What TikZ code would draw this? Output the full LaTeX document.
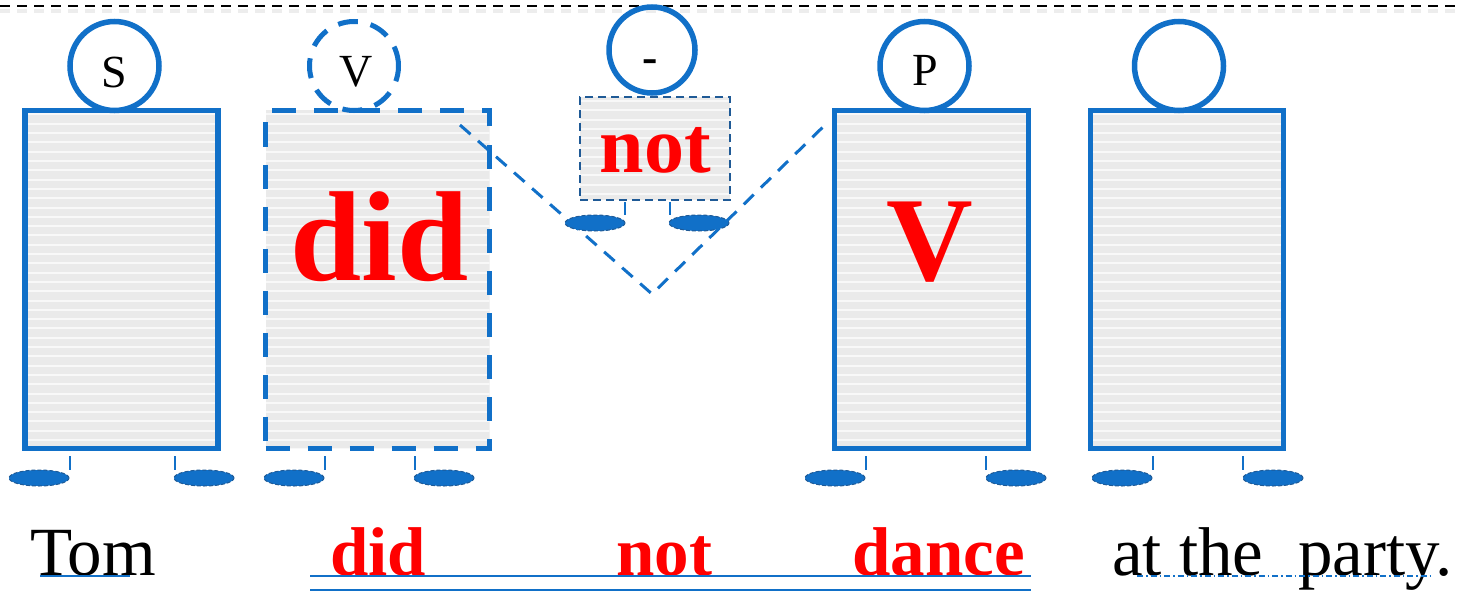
\documentclass[tikz,border=0pt]{standalone}
\usepackage{fontspec}
\setmainfont{Liberation Serif}
\usetikzlibrary{shapes.geometric}
\definecolor{lblue}{RGB}{17,112,200}
\definecolor{dblue}{RGB}{31,90,150}
\definecolor{stripebase}{RGB}{234,234,234}
\definecolor{stripeline}{RGB}{248,248,248}
\definecolor{tred}{RGB}{255,0,0}
\begin{document}
\begin{tikzpicture}[x=1pt,y=-1pt,
  striped/.style={path picture={
    \fill[stripebase] (path picture bounding box.south west) rectangle (path picture bounding box.north east);
    \foreach \k in {0,...,40}{
      \draw[stripeline, solid, line width=2pt] ([yshift={-\k*9.3pt-4pt}]path picture bounding box.north west) -- ([yshift={-\k*9.3pt-4pt}]path picture bounding box.north east);}
  }},
  bigbox/.style={draw=lblue, line width=5.5pt, striped, minimum width=193pt, minimum height=338pt, inner sep=0pt},
  dashbox/.style={bigbox, line width=5pt, minimum width=224pt, dash pattern=on 24pt off 18pt},
  notbox/.style={draw=dblue, line width=2.5pt, striped, minimum width=150pt, minimum height=103pt, inner sep=0pt, dash pattern=on 8pt off 5pt},
  head/.style={circle, draw=lblue, line width=5.5pt, minimum size=89pt, inner sep=0pt},
  dashhead/.style={head, line width=5pt, dash pattern=on 20pt off 13pt},
  foot/.style={ellipse, draw=dblue, fill=lblue, line width=1pt, dash pattern=on 4pt off 2pt, minimum width=60pt, minimum height=16pt, inner sep=0pt},
  leg/.style={lblue, line width=1.8pt},
  headlbl/.style={font=\fontsize{46pt}{46pt}\selectfont, inner sep=0pt},
  bigred/.style={text=tred, inner sep=0pt, anchor=base},
  word/.style={font=\fontsize{69pt}{69pt}\selectfont, inner sep=0pt, anchor=base west},
  redword/.style={word, text=tred, font=\fontsize{69pt}{69pt}\selectfont\bfseries},
  uline/.style={lblue, line width=1.6pt}
]
\useasboundingbox (0,0) rectangle (1458,591);
% top dashed rule
\draw[gray!14, line width=4pt, dash pattern=on 10pt off 7pt] (0,11) -- (1458,11);
\draw[black, line width=2.5pt, dash pattern=on 10pt off 7pt] (0,6) -- (1458,6);

% boxes
\node[bigbox] (b1) at (121.5,279.5) {};
\node[dashbox] (b2) at (377.5,279.5) {};
\node[notbox] (b3) at (655,148.5) {};
\node[bigbox, minimum width=194pt] (b4) at (931.5,279.5) {};
\node[bigbox] (b5) at (1187,279.5) {};

% heads
\node[head] (h1) at (114.5,66) {};
\node[dashhead] (h2) at (354,66) {};
\node[head, minimum size=86pt] (h3) at (652,50) {};
\node[head] (h4) at (924.5,66) {};
\node[head] (h5) at (1179,66) {};
\node[headlbl] (l1) at (114.5,72) {S};
\node[headlbl] (l2) at (356,72) {V};
\node[headlbl, font=\fontsize{46pt}{46pt}\selectfont\bfseries, anchor=base] (l3) at (650,73) {-};
\node[headlbl] (l4) at (925,70) {P};

% big texts
\node[bigred, font=\fontsize{128pt}{128pt}\selectfont\bfseries] (tdid) at (379.5,280) {did};
\node[bigred, font=\fontsize{80pt}{80pt}\selectfont\bfseries] (tnot) at (655.5,172) {not};
\node[bigred, font=\fontsize{120pt}{120pt}\selectfont\bfseries] (tv) at (930,280) {V};

% feet
\foreach \n/\xa/\xb/\la/\lb in {f1/39/204/70/175, f2/294/444/325/415, f4/835/1016/866/986, f5/1122/1273/1153/1243}{
  \draw[leg] (\la,456) -- (\la,470);
  \draw[leg] (\lb,456) -- (\lb,470);
  \node[foot] (\n a) at (\xa,478) {};
  \node[foot] (\n b) at (\xb,478) {};
}
\draw[leg] (625,202) -- (625,215);
\draw[leg] (670,202) -- (670,215);
\node[foot] (f3a) at (595,223) {};
\node[foot] (f3b) at (699,223) {};

% diagonal dashed V
\coordinate (d1) at (460,125);
\coordinate (d2) at (652,294);
\coordinate (d3) at (826,124);
\draw[lblue, line width=3pt, dash pattern=on 14pt off 10pt] (d1) -- (d2) -- (d3);

% bottom words
\node[word] (w1) at (30,575) {Tom};
\node[redword] (w2) at (330,575) {did};
\node[redword] (w3) at (616,575) {not};
\node[redword] (w4) at (852,575) {dance};
\node[word] (w5) at (1112,575) {at the\ \ party.};

% underlines
\draw[uline] (40,576) -- (130,576);
\draw[uline] (310,576) -- (1031,576);
\draw[uline] (310,590) -- (1031,590);
\draw[uline, dash pattern=on 6pt off 3pt on 1.5pt off 3pt] (1137,576) -- (1434,576);
\end{tikzpicture}
\end{document}
